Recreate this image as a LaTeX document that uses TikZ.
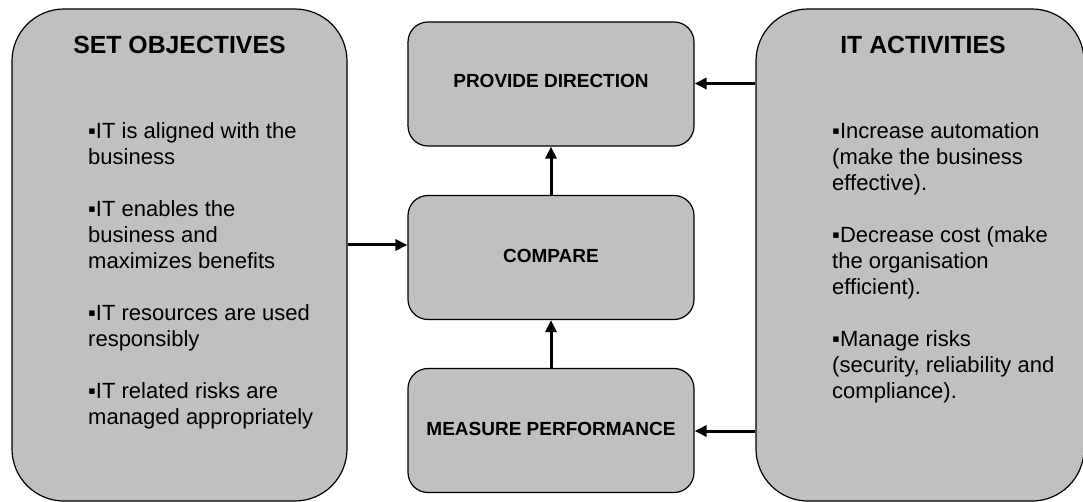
\documentclass[tikz,border=0pt]{standalone}
\usepackage{fontspec}
\setmainfont{Liberation Sans}
\usetikzlibrary{arrows.meta}
\definecolor{boxgray}{RGB}{192,192,192}
\tikzset{
  panel/.style={draw=black, line width=1.2pt, fill=boxgray, rounded corners=52pt, inner sep=0pt},
  stagebox/.style={draw=black, line width=1.2pt, fill=boxgray, rounded corners=20pt,
    minimum width=286pt, minimum height=124pt, inner sep=0pt},
  flow/.style={line width=3pt, -{Triangle[length=12pt,width=11pt]}},
  paneltitle/.style={font=\fontsize{24.8}{28}\selectfont\bfseries, anchor=base, inner sep=0pt},
  stagetext/.style={font=\fontsize{19}{22}\selectfont\bfseries, anchor=base, inner sep=0pt},
  bullets/.style={font=\fontsize{22}{26}\selectfont, align=left, anchor=north west, inner sep=0pt},
}
\begin{document}
\begin{tikzpicture}[x=1pt,y=-1pt]
\useasboundingbox (0,0) rectangle (1083,502);
% side panels
\node[panel, minimum width=335pt, minimum height=492pt] (obj) at (179.5,255) {};
\node[panel, minimum width=328pt, minimum height=492pt] (act) at (920,255) {};
% stages
\node[stagebox] (dir) at (551,84) {};
\node[stagebox] (cmp) at (551,257.5) {};
\node[stagebox] (mea) at (551,430.5) {};
% texts
\node[paneltitle] (objt) at (179.5,54) {SET OBJECTIVES};
\node[paneltitle] (actt) at (923,54) {IT ACTIVITIES};
\node[stagetext] (dirt) at (551,88) {PROVIDE DIRECTION};
\node[stagetext] (cmpt) at (551,263) {COMPARE};
\node[stagetext] (meat) at (551,435) {MEASURE PERFORMANCE};
\node[bullets] (objb) at (88,122) {▪IT is aligned with the\\business\\[26pt]
  ▪IT enables the\\business and\\maximizes benefits\\[26pt]
  ▪IT resources are used\\responsibly\\[26pt]
  ▪IT related risks are\\managed appropriately};
\node[bullets] (actb) at (832,122) {▪Increase automation\\(make the business\\effective).\\[26pt]
  ▪Decrease cost (make\\the organisation\\efficient).\\[26pt]
  ▪Manage risks\\(security, reliability and\\compliance).};
% connectors
\coordinate (a1) at (0,245);
\coordinate (a2) at (0,83.5);
\coordinate (a3) at (0,431);
\draw[flow] (obj.east |- a1) -- (cmp.west |- a1);
\draw[flow] (act.west |- a2) -- (dir.east |- a2);
\draw[flow] (act.west |- a3) -- (mea.east |- a3);
\draw[flow] (cmp.north) -- (dir.south);
\draw[flow] (mea.north) -- (cmp.south);
\end{tikzpicture}
\end{document}
